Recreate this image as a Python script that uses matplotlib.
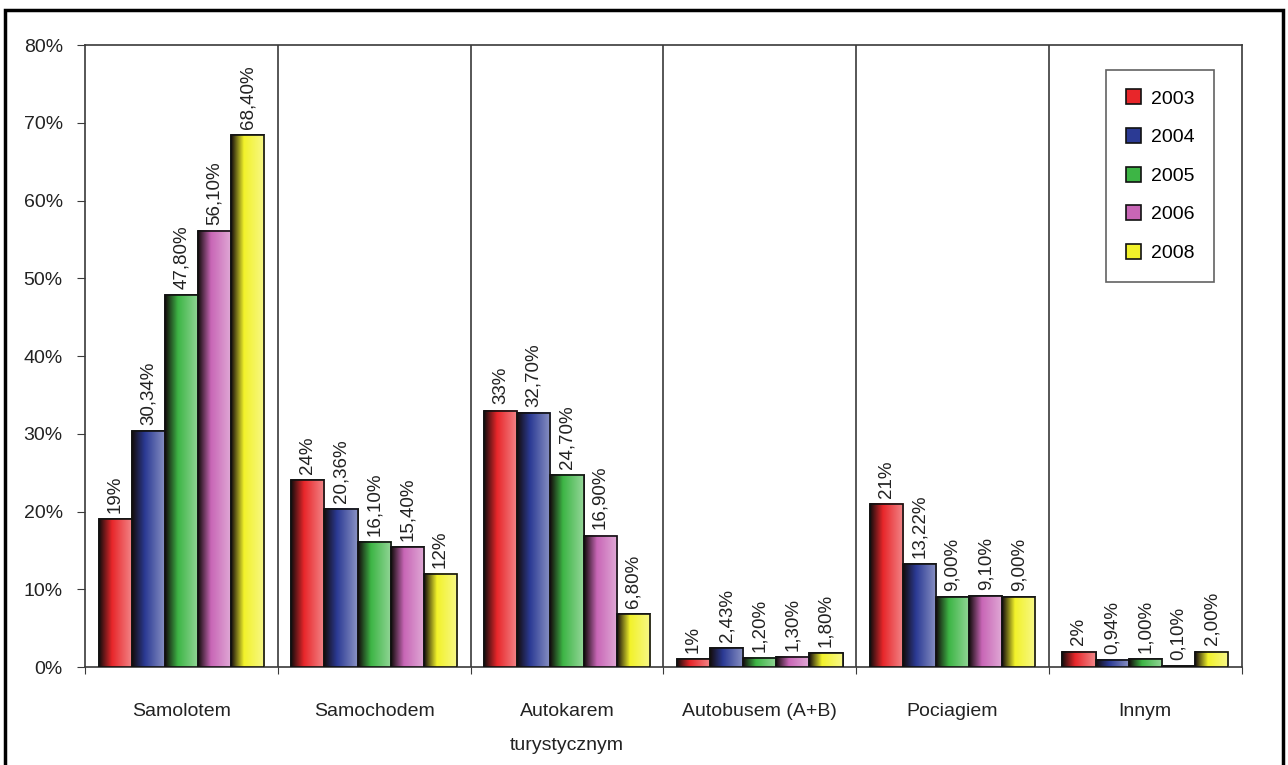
import numpy as np
import matplotlib.pyplot as plt
from matplotlib.colors import to_rgb
from matplotlib.patches import Rectangle

categories = ["Samolotem", "Samochodem", "Autokarem\nturystycznym",
              "Autobusem (A+B)", "Pociagiem", "Innym"]
years = ["2003", "2004", "2005", "2006", "2008"]
v2003 = [19, 24, 33, 1, 21, 2]
v2004 = [30.34, 20.36, 32.7, 2.43, 13.22, 0.94]
v2005 = [47.8, 16.1, 24.7, 1.2, 9.0, 1.0]
v2006 = [56.1, 15.4, 16.9, 1.3, 9.1, 0.1]
v2008 = [68.4, 12, 6.8, 1.8, 9.0, 2.0]
l2003 = ["19%", "24%", "33%", "1%", "21%", "2%"]
l2004 = ["30,34%", "20,36%", "32,70%", "2,43%", "13,22%", "0,94%"]
l2005 = ["47,80%", "16,10%", "24,70%", "1,20%", "9,00%", "1,00%"]
l2006 = ["56,10%", "15,40%", "16,90%", "1,30%", "9,10%", "0,10%"]
l2008 = ["68,40%", "12%", "6,80%", "1,80%", "9,00%", "2,00%"]

series = [v2003, v2004, v2005, v2006, v2008]
labels = [l2003, l2004, l2005, l2006, l2008]
colors = ["#e8262a", "#2b3a94", "#3db545", "#c866b6", "#f2f22a"]

plt.rcParams['font.family'] = ['Liberation Sans Narrow', 'Liberation Sans', 'DejaVu Sans']

fig = plt.figure(figsize=(12.88, 7.65), dpi=100)
ax = fig.add_axes([0.066, 0.128, 0.898, 0.813])

x = np.arange(len(categories))
w = 0.172
line_c = "#3a3a3a"
txt_c = "#222222"

def gradient_img(c):
    # dark on the left, full colour, then a lighter tint on the right
    c = np.array(to_rgb(c))
    dark = np.array([0.08, 0.05, 0.05])
    light = c + (1 - c) * 0.45
    stops = [(0.0, dark), (0.38, c), (1.0, light)]
    t = np.linspace(0, 1, 64)
    img = np.zeros((1, 64, 3))
    for i, ti in enumerate(t):
        for (a, ca), (b, cb) in zip(stops[:-1], stops[1:]):
            if a <= ti <= b:
                f = (ti - a) / (b - a)
                img[0, i] = ca * (1 - f) + cb * f
    return img

for i, (vals, labs) in enumerate(zip(series, labels)):
    pos = x + (i - 2) * w
    bars = ax.bar(pos, vals, w, color=colors[i], edgecolor="#111111",
                  linewidth=1.2, zorder=3, label=years[i])
    img = gradient_img(colors[i])
    for b in bars:
        bx, bw, bh = b.get_x(), b.get_width(), b.get_height()
        if bh > 0:
            ax.imshow(img, extent=[bx, bx + bw, 0, bh], aspect='auto',
                      zorder=3.5, interpolation='bilinear')
    ax.bar(pos, vals, w, color="none", edgecolor="#111111", linewidth=1.2, zorder=4)
    for p, v, s in zip(pos, vals, labs):
        ax.text(p, v + 0.8, s, rotation=90, ha="center", va="bottom",
                fontsize=13.5, color=txt_c, zorder=5)

ax.set_xlim(-0.5, len(categories) - 0.5)
ax.set_ylim(0, 80)

for b in np.arange(0.5, len(categories) - 0.5, 1):
    ax.axvline(b, color=line_c, linewidth=1.2, zorder=2)

ax.set_yticks(np.arange(0, 81, 10))
ax.set_yticklabels([f"{t}%" for t in range(0, 81, 10)], fontsize=14, color=txt_c)
ax.set_xticks(np.arange(-0.5, len(categories), 1))
ax.set_xticklabels([])
ax.tick_params(axis="x", length=5, direction="out", color=line_c)
ax.tick_params(axis="y", length=6, direction="out", color=line_c, pad=10)
for s in ax.spines.values():
    s.set_color(line_c)
    s.set_linewidth(1.2)

for xi, c in zip(x, categories):
    ax.text(xi, -4.6, c, ha="center", va="top", fontsize=14, color=txt_c,
            linespacing=2.3, clip_on=False)

leg = ax.legend(loc="upper left", bbox_to_anchor=(0.883, 0.96), fontsize=14,
                frameon=True, fancybox=False, edgecolor=line_c,
                labelspacing=1.05, handlelength=0.8, handleheight=0.8,
                borderpad=1.0, handletextpad=0.5, borderaxespad=0)
leg.get_frame().set_linewidth(1.2)

fig.patches.append(Rectangle((0.004, -0.1), 0.992, 1.087, transform=fig.transFigure,
                             fill=False, edgecolor="black", linewidth=2.5))

fig.savefig("out.png", dpi=100)
